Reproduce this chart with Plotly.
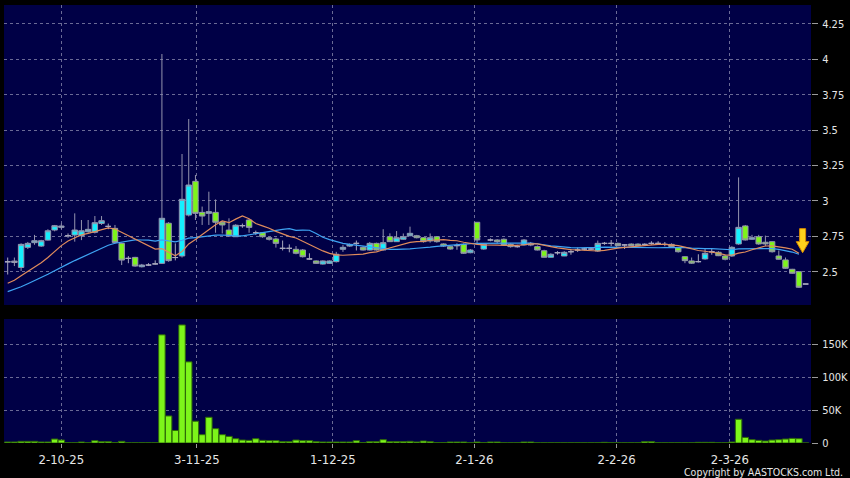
import plotly.graph_objects as go
import pandas as pd

# ---- data ----
session = list(range(-8, 112))  # trading-session index, 0 = 2-10-25

opens = [
    2.570, 2.565, 2.530, 2.672, 2.705, 2.681, 2.723, 2.794, 2.813, 2.754,
    2.759, 2.754, 2.782, 2.778, 2.841, 2.820, 2.806, 2.700, 2.594, 2.601,
    2.535, 2.547, 2.555, 2.559, 2.842, 2.600, 2.611, 2.900, 3.138, 2.919,
    2.912, 2.919, 2.849, 2.794, 2.747, 2.825, 2.865, 2.775, 2.775, 2.740,
    2.731, 2.665, 2.665, 2.658, 2.653, 2.590, 2.576, 2.554, 2.559, 2.571,
    2.658, 2.681, 2.700, 2.672, 2.653, 2.700, 2.653, 2.747, 2.712, 2.729,
    2.754, 2.754, 2.740, 2.717, 2.747, 2.696, 2.677, 2.684, 2.693, 2.634,
    2.849, 2.660, 2.724, 2.724, 2.729, 2.693, 2.677, 2.689, 2.700, 2.677,
    2.648, 2.602, 2.634, 2.611, 2.641, 2.653, 2.660, 2.660, 2.646, 2.700,
    2.700, 2.700, 2.689, 2.695, 2.695, 2.693, 2.700, 2.700, 2.693, 2.693,
    2.670, 2.606, 2.576, 2.571, 2.590, 2.641, 2.637, 2.611, 2.611, 2.696,
    2.823, 2.729, 2.747, 2.708, 2.712, 2.611, 2.583, 2.517, 2.500, 2.413,
]
highs = [
    2.600, 2.600, 2.700, 2.710, 2.760, 2.725, 2.800, 2.830, 2.840, 2.770,
    2.912, 2.865, 2.865, 2.893, 2.893, 2.840, 2.830, 2.705, 2.610, 2.605,
    2.555, 2.560, 2.580, 4.037, 2.850, 2.700, 3.331, 3.578, 3.183, 2.960,
    3.065, 3.010, 2.855, 2.877, 2.835, 2.840, 2.870, 2.790, 2.780, 2.745,
    2.740, 2.720, 2.693, 2.681, 2.660, 2.630, 2.580, 2.580, 2.580, 2.640,
    2.690, 2.700, 2.720, 2.680, 2.710, 2.705, 2.800, 2.771, 2.787, 2.770,
    2.818, 2.760, 2.745, 2.770, 2.750, 2.700, 2.680, 2.700, 2.700, 2.660,
    2.850, 2.700, 2.735, 2.730, 2.735, 2.700, 2.690, 2.730, 2.710, 2.685,
    2.655, 2.630, 2.645, 2.645, 2.660, 2.670, 2.670, 2.670, 2.720, 2.710,
    2.724, 2.705, 2.695, 2.700, 2.700, 2.700, 2.715, 2.715, 2.710, 2.700,
    2.675, 2.610, 2.600, 2.623, 2.660, 2.660, 2.645, 2.620, 2.680, 3.166,
    2.830, 2.760, 2.760, 2.755, 2.715, 2.650, 2.600, 2.520, 2.500, 2.413,
]
lows = [
    2.480, 2.540, 2.505, 2.660, 2.690, 2.675, 2.720, 2.785, 2.800, 2.740,
    2.712, 2.723, 2.775, 2.770, 2.830, 2.800, 2.700, 2.547, 2.560, 2.535,
    2.530, 2.540, 2.550, 2.555, 2.570, 2.580, 2.600, 2.890, 2.865, 2.830,
    2.830, 2.775, 2.770, 2.745, 2.745, 2.810, 2.775, 2.760, 2.740, 2.720,
    2.670, 2.650, 2.637, 2.623, 2.600, 2.585, 2.555, 2.550, 2.555, 2.565,
    2.640, 2.675, 2.650, 2.650, 2.650, 2.650, 2.650, 2.710, 2.710, 2.725,
    2.750, 2.735, 2.705, 2.705, 2.705, 2.675, 2.655, 2.655, 2.625, 2.630,
    2.695, 2.655, 2.715, 2.700, 2.685, 2.670, 2.670, 2.685, 2.680, 2.650,
    2.600, 2.600, 2.620, 2.610, 2.620, 2.640, 2.650, 2.655, 2.640, 2.690,
    2.680, 2.680, 2.660, 2.680, 2.680, 2.685, 2.690, 2.690, 2.680, 2.670,
    2.635, 2.560, 2.555, 2.565, 2.585, 2.620, 2.610, 2.580, 2.605, 2.690,
    2.720, 2.725, 2.690, 2.680, 2.635, 2.585, 2.520, 2.485, 2.385, 2.413,
]
closes = [
    2.570, 2.575, 2.693, 2.700, 2.719, 2.719, 2.789, 2.825, 2.822, 2.754,
    2.794, 2.789, 2.799, 2.846, 2.860, 2.820, 2.707, 2.582, 2.594, 2.540,
    2.547, 2.547, 2.555, 2.877, 2.578, 2.600, 3.011, 3.112, 2.912, 2.893,
    2.924, 2.849, 2.830, 2.752, 2.828, 2.825, 2.813, 2.775, 2.747, 2.729,
    2.700, 2.665, 2.665, 2.630, 2.606, 2.590, 2.559, 2.576, 2.576, 2.623,
    2.672, 2.693, 2.700, 2.653, 2.700, 2.653, 2.705, 2.712, 2.740, 2.747,
    2.771, 2.740, 2.712, 2.740, 2.712, 2.681, 2.660, 2.684, 2.630, 2.653,
    2.724, 2.693, 2.724, 2.712, 2.689, 2.677, 2.677, 2.724, 2.688, 2.653,
    2.602, 2.623, 2.634, 2.637, 2.641, 2.653, 2.660, 2.660, 2.700, 2.700,
    2.700, 2.684, 2.689, 2.684, 2.684, 2.693, 2.700, 2.700, 2.693, 2.677,
    2.641, 2.578, 2.560, 2.571, 2.630, 2.641, 2.613, 2.588, 2.672, 2.813,
    2.724, 2.740, 2.696, 2.696, 2.641, 2.588, 2.524, 2.489, 2.390, 2.413,
]
volume_k = [
    1.5, 1.5, 2.5, 2.5, 2.5, 1.5, 1.5, 6.0, 4.5, 0.3,
    0.3, 1.5, 0.3, 3.5, 2.0, 2.0, 0.5, 2.5, 0.3, 0.3,
    0.3, 0.3, 0.3, 164, 41, 19, 179, 123, 33, 12.6,
    39, 21.7, 12.6, 10, 6.5, 4.5, 4.0, 6.5, 4.0, 3.5,
    3.5, 2.0, 2.0, 4.5, 3.5, 3.5, 2.0, 1.5, 1.5, 1.5,
    1.5, 1.5, 3.5, 0.5, 2.0, 2.0, 5.0, 2.0, 2.0, 2.0,
    2.5, 1.5, 3.0, 2.0, 0.5, 0.5, 1.5, 1.5, 1.5, 0.3,
    1.5, 0.5, 1.5, 1.5, 0.3, 0.3, 0.3, 1.5, 1.5, 0.3,
    0.3, 0.3, 0.3, 0.3, 0.3, 0.3, 0.3, 0.3, 0.3, 1.0,
    0.3, 0.3, 0.3, 0.3, 0.3, 2.0, 2.0, 0.3, 0.3, 0.3,
    0.3, 0.3, 0.3, 1.0, 1.0, 1.0, 0.3, 0.3, 1.5, 36,
    8.5, 5.0, 4.0, 3.0, 4.5, 5.0, 6.0, 7.0, 6.5, 0,
]
# closes before the visible window (estimated from where the moving averages start)
pre_closes = [2.28, 2.30, 2.27, 2.29, 2.31, 2.30, 2.32, 2.30, 2.31, 2.33,
              2.36, 2.38, 2.40, 2.41, 2.40, 2.42, 2.41, 2.40, 2.43]

date_labels = ["2-10-25", "3-11-25", "1-12-25", "2-1-26", "2-2-26", "2-3-26"]
price_ticks = [2.5, 2.75, 3, 3.25, 3.5, 3.75, 4, 4.25]
price_tick_text = ["2.5", "2.75", "3", "3.25", "3.5", "3.75", "4", "4.25"]
vol_ticks = [0, 50000, 100000, 150000]
vol_tick_text = ["0", "50K", "100K", "150K"]

# ---- styling / layout constants ----
label_pos = [0, 20.2, 40.5, 61.6, 82.8, 99.7]
NAVY = "#000046"
GRID = "#6a6a96"
CYAN = "#14f0ff"
GREEN = "#7df51a"
WICK = "#9494ae"
DOJI = "#a8a8bc"
ORANGE = "#e08c5c"
BLUE = "#3ea4f4"
TXT = "#e6e6e6"
FONT = "DejaVu Sans Condensed, DejaVu Sans, sans-serif"

n = len(session)
up = [k for k in range(n) if closes[k] > opens[k]]
dn = [k for k in range(n) if closes[k] < opens[k]]
dj = [k for k in range(n) if closes[k] == opens[k]]


def pick(arr, idx):
    return [arr[k] for k in idx]


fig = go.Figure()
for idx, fill, line in [(up, CYAN, WICK), (dn, GREEN, WICK), (dj, DOJI, DOJI)]:
    style = dict(fillcolor=fill, line=dict(color=line, width=1))
    fig.add_trace(go.Candlestick(
        x=pick(session, idx), open=pick(opens, idx), high=pick(highs, idx),
        low=pick(lows, idx), close=pick(closes, idx),
        increasing=style, decreasing=style, whiskerwidth=0,
        xaxis="x", yaxis="y", hoverinfo="skip"))

# moving averages over completed sessions (last session is still open)
full = pd.Series(pre_closes + closes[:-1])
ma10 = full.rolling(10).mean().iloc[len(pre_closes):].tolist()
ma20 = full.rolling(20).mean().iloc[len(pre_closes):].tolist()
ma_x = session[:-1]
fig.add_trace(go.Scatter(x=ma_x, y=ma20, mode="lines", line=dict(color=BLUE, width=1.2),
                         xaxis="x", yaxis="y", hoverinfo="skip"))
fig.add_trace(go.Scatter(x=ma_x, y=ma10, mode="lines", line=dict(color=ORANGE, width=1.2),
                         xaxis="x", yaxis="y", hoverinfo="skip"))

fig.add_trace(go.Bar(x=session, y=[v * 1000 for v in volume_k], xaxis="x2", yaxis="y2",
                     marker=dict(color=GREEN, line=dict(color="#2e6a08", width=1)),
                     hoverinfo="skip"))

# yellow down arrow at the end of the averages
ax = ma_x[-1] + 0.55
tip = ma10[-1] + 0.004
head_h, total_h = 0.078, 0.17
path = (f"M {ax-0.45},{tip+total_h} L {ax+0.45},{tip+total_h} L {ax+0.45},{tip+head_h} "
        f"L {ax+0.95},{tip+head_h} L {ax},{tip} L {ax-0.95},{tip+head_h} "
        f"L {ax-0.45},{tip+head_h} Z")
fig.add_shape(type="path", path=path, xref="x", yref="y",
              fillcolor="#ffd21c", line=dict(color="#d88a00", width=1))

grid = dict(showgrid=True, gridcolor=GRID, griddash="3px,3px", gridwidth=1, zeroline=False,
            showline=False)
fig.update_layout(
    width=850, height=478,
    margin=dict(l=4, r=39, t=5, b=35, autoexpand=False),
    paper_bgcolor="black", plot_bgcolor=NAVY,
    showlegend=False,
    boxgap=0.12, boxgroupgap=0.08, bargap=0.04,
    font=dict(family=FONT, color=TXT),
    xaxis=dict(domain=[0, 1], anchor="y", range=[-8.55, 111.8], tickvals=label_pos,
               showticklabels=False, ticks="", rangeslider=dict(visible=False), **grid),
    yaxis=dict(domain=[0.3151, 1], anchor="x", side="right", range=[2.265, 4.383],
               tickvals=price_ticks, ticktext=price_tick_text, ticks="outside", ticklen=6,
               tickcolor="#9a9a9a", tickfont=dict(size=11, color=TXT), ticklabelstandoff=2,
               **grid),
    xaxis2=dict(domain=[0, 1], anchor="y2", matches="x", range=[-8.55, 111.8],
                tickvals=label_pos, ticktext=date_labels, ticks="outside", ticklen=4,
                tickcolor="#9a9a9a", tickfont=dict(size=13, color=TXT),
                rangeslider=dict(visible=False), **grid),
    yaxis2=dict(domain=[0, 0.2831], anchor="x2", side="right", range=[0, 188000],
                tickvals=vol_ticks, ticktext=vol_tick_text, ticks="outside", ticklen=6,
                tickcolor="#9a9a9a", tickfont=dict(size=11, color=TXT), ticklabelstandoff=2,
                **grid),
)
fig.add_annotation(text="Copyright by AASTOCKS.com Ltd.", xref="paper", yref="paper",
                   x=1.0425, y=-0.066, xanchor="right", yanchor="middle", showarrow=False,
                   font=dict(size=10.5, color=TXT, family=FONT))

fig.write_html("out.html", config={"displayModeBar": False, "staticPlot": True},
               post_script="document.body.style.margin='0';")
